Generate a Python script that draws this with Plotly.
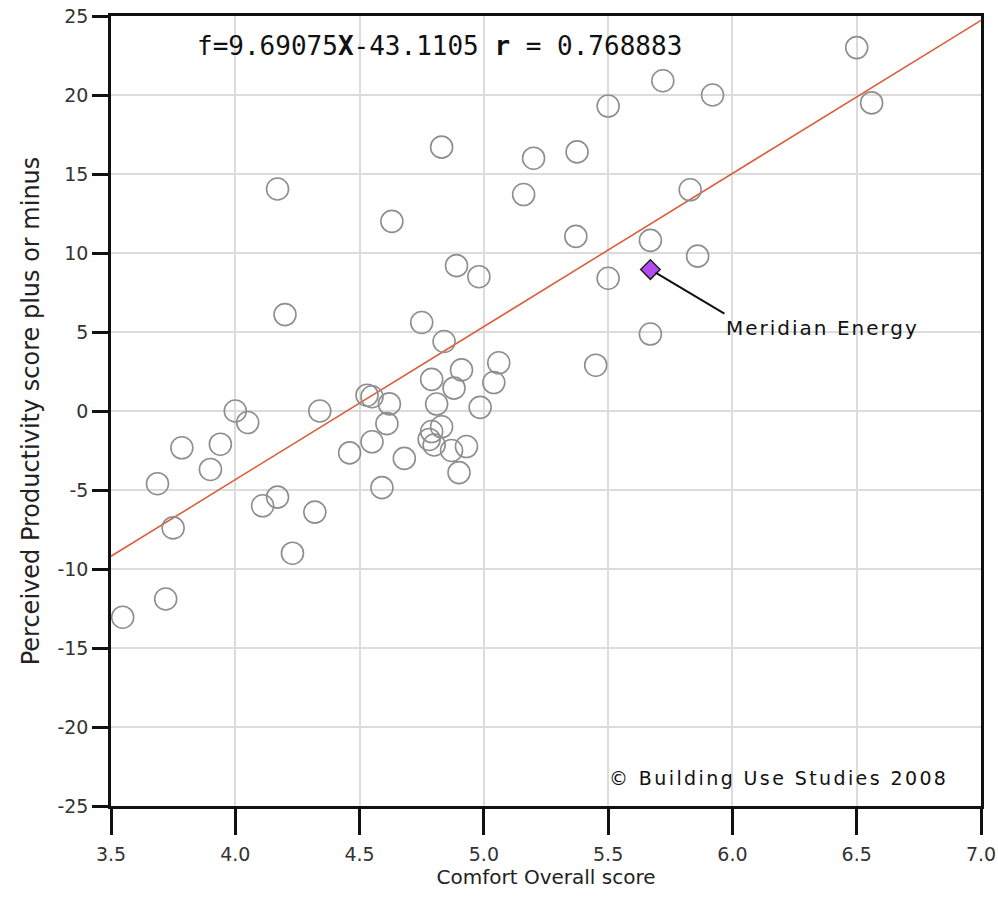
import plotly.graph_objects as go

# Data
comfort = [6.50, 5.72, 5.92, 5.50, 6.56, 4.83, 5.375, 5.20, 5.16, 5.83, 4.17, 4.63,
           5.37, 5.67, 5.86, 4.89, 4.98, 5.50, 4.20, 4.75, 4.84, 5.67, 5.45, 4.91,
           5.06, 4.79, 5.04, 4.88, 4.53, 4.55, 4.62, 4.81, 4.985, 4.00, 4.34, 4.05,
           4.61, 4.83, 4.79, 4.78, 4.80, 4.87, 4.93, 4.55, 4.46, 4.68, 4.90, 4.59,
           3.785, 3.94, 3.90, 3.687, 3.75, 4.11, 4.17, 4.32, 4.23, 3.72, 3.547]
productivity = [23.0, 20.9, 20.0, 19.3, 19.5, 16.7, 16.4, 16.0, 13.7, 14.0, 14.05, 12.0,
                11.05, 10.8, 9.8, 9.2, 8.5, 8.4, 6.1, 5.6, 4.4, 4.87, 2.9, 2.6,
                3.05, 2.0, 1.8, 1.45, 1.0, 0.9, 0.45, 0.44, 0.23, 0.0, 0.0, -0.73,
                -0.8, -1.0, -1.3, -1.8, -2.15, -2.5, -2.25, -1.95, -2.65, -3.0, -3.9, -4.85,
                -2.33, -2.1, -3.7, -4.6, -7.4, -6.0, -5.45, -6.4, -9.0, -11.9, -13.05]

highlight_name = "Meridian Energy"
highlight_x = [5.67]
highlight_y = [8.95]

fit_slope = 9.69075
fit_intercept = -43.1105
fit_r = 0.768883
x_range = [3.5, 7.0]
y_range = [-25, 25]
x_ticks = [3.5, 4.0, 4.5, 5.0, 5.5, 6.0, 6.5, 7.0]
x_ticklabels = ["3.5", "4.0", "4.5", "5.0", "5.5", "6.0", "6.5", "7.0"]
y_ticks = [-25, -20, -15, -10, -5, 0, 5, 10, 15, 20, 25]
y_ticklabels = ["-25", "-20", "-15", "-10", "-5", "0", "5", "10", "15", "20", "25"]

fit_x = x_range
fit_y = [fit_slope * v + fit_intercept for v in fit_x]

fig = go.Figure()

fig.add_trace(go.Scatter(
    x=fit_x, y=fit_y, mode="lines",
    line=dict(color="#d9603b", width=1.6),
    hoverinfo="skip", showlegend=False))

fig.add_trace(go.Scatter(
    x=comfort, y=productivity, mode="markers",
    marker=dict(symbol="circle-open", size=22, color="#8e8e8e",
                line=dict(color="#8e8e8e", width=1.6)),
    showlegend=False))

fig.add_trace(go.Scatter(
    x=highlight_x, y=highlight_y, mode="markers",
    marker=dict(symbol="diamond", size=15, color="#b44cf0",
                line=dict(color="#222222", width=1.5)),
    showlegend=False))

fig.add_annotation(
    x=highlight_x[0], y=highlight_y[0], xref="x", yref="y",
    text='<span style="letter-spacing:2px">' + highlight_name + '</span>',
    showarrow=True, arrowhead=0, arrowwidth=2,
    arrowcolor="#111111", ax=74, ay=44, xanchor="left", yanchor="top",
    standoff=6,
    font=dict(family="DejaVu Sans", size=20, color="#111111"))

fig.add_annotation(
    x=(195 - 111) / 870, y=0.962, xref="paper", yref="paper",
    text=f"f={fit_slope}<b>X</b>{fit_intercept} <b>r</b> = {fit_r}",
    showarrow=False, xanchor="left", yanchor="middle",
    font=dict(family="DejaVu Sans Mono", size=26, color="#111111"))

fig.add_annotation(
    x=(950 - 111) / 870, y=0.035, xref="paper", yref="paper",
    text='<span style="letter-spacing:2.4px">© Building Use Studies 2008</span>',
    showarrow=False, xanchor="right", yanchor="middle",
    font=dict(family="DejaVu Sans", size=19, color="#111111"))

fig.update_xaxes(
    range=x_range, tickvals=x_ticks, ticktext=x_ticklabels, automargin=False,
    showgrid=True, gridcolor="#dcdcdc", gridwidth=1.5,
    showline=True, linecolor="#111111", linewidth=2.5, mirror=True,
    ticks="outside", ticklen=26, tickwidth=2.5, tickcolor="#111111",
    ticklabelstandoff=3,
    tickfont=dict(family="DejaVu Sans", size=19, color="#333333"),
    title=dict(text="Comfort Overall score", standoff=6,
               font=dict(family="DejaVu Sans", size=20, color="#222222")),
    zeroline=False)

fig.update_yaxes(
    range=y_range, tickvals=y_ticks, ticktext=y_ticklabels, automargin=False,
    showgrid=True, gridcolor="#dcdcdc", gridwidth=1.5,
    showline=True, linecolor="#111111", linewidth=2.5, mirror=True,
    ticks="outside", ticklen=16, tickwidth=2.5, tickcolor="#111111",
    tickfont=dict(family="DejaVu Sans", size=19, color="#333333"),
    title=dict(text="Perceived Productivity score plus or minus", standoff=12,
               font=dict(family="DejaVu Sans", size=24, color="#222222")),
    zeroline=False)

fig.update_layout(
    width=998, height=906,
    margin=dict(l=111, r=17, t=16, b=100),
    plot_bgcolor="white", paper_bgcolor="white")

fig.write_html("out.html", config={"displayModeBar": False},
               post_script="document.body.style.margin='0px';")
